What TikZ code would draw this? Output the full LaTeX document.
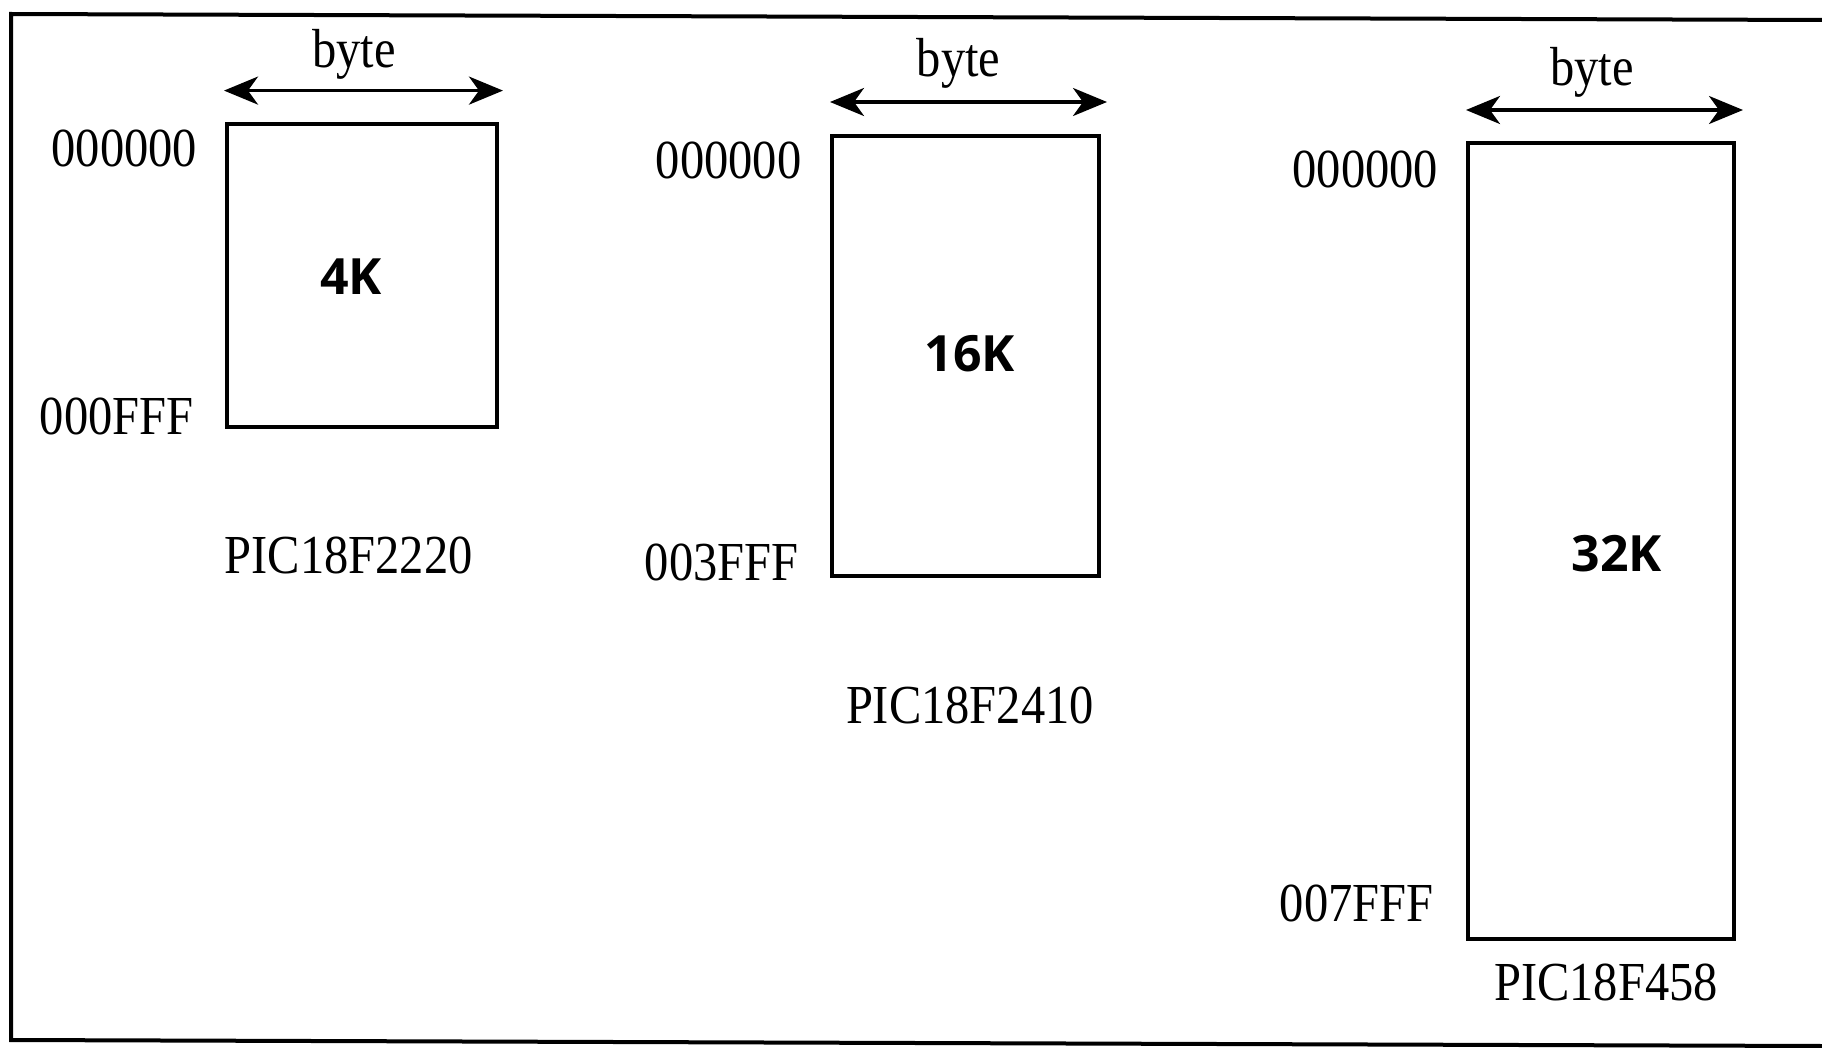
\documentclass[tikz,border=0pt]{standalone}
\usepackage{fontspec}
\setmainfont{Liberation Serif}
\newfontfamily\boldsans{Open Sans}
\usetikzlibrary{arrows.meta}
\newcommand{\tall}[1]{\scalebox{0.97}[1.1]{#1}}
\tikzset{
  membox/.style={draw, line width=2pt, anchor=north west, inner sep=0pt, outer sep=0pt},
  addr/.style={anchor=east, inner sep=0pt, font=\fontsize{25}{28}\selectfont},
  lbl/.style={inner sep=0pt, font=\fontsize{25}{28}\selectfont},
  size/.style={inner sep=0pt, font=\boldsans\bfseries\fontsize{25}{28}\selectfont},
  widtharrow/.style={line width=1.7pt, {Stealth[length=17pt,width=14pt,inset=5pt]}-{Stealth[length=17pt,width=14pt,inset=5pt]}},
  frameline/.style={line width=2pt}
}
\begin{document}
\begin{tikzpicture}[x=0.5pt,y=-0.5pt]
\useasboundingbox (0,0) rectangle (1822,1048);
% frame
\coordinate (ftr) at (1822,20);
\coordinate (ftl) at (11,14);
\coordinate (fbl) at (11,1040);
\coordinate (fbr) at (1822,1046);
\draw[frameline] (ftr) -- (ftl) -- (fbl) -- (fbr);

% ---- PIC18F2220
\node[membox, minimum width=135.3pt, minimum height=151.6pt] (box1) at (226.6,124.3) {};
\node[size] (k1) at (351,276.6) {4K};
\coordinate (a1l) at (224,90.6);
\coordinate (a1r) at (503,90.6);
\draw[widtharrow] (a1l) -- (a1r);
\node[lbl] (byte1) at (354,54) {\tall{byte}};
\node[addr] (s1) at (197.5,148.7) {\tall{000000}};
\node[addr] (e1) at (194,416) {\tall{000FFF}};
\node[lbl] (n1) at (348.6,555.4) {\tall{PIC18F2220}};

% ---- PIC18F2410
\node[membox, minimum width=133.5pt, minimum height=220pt] (box2) at (832,136) {};
\node[size] (k2) at (970,354) {16K};
\coordinate (a2l) at (830,102);
\coordinate (a2r) at (1107,102);
\draw[widtharrow] (a2l) -- (a2r);
\node[lbl] (byte2) at (958.7,63) {\tall{byte}};
\node[addr] (s2) at (801.8,160) {\tall{000000}};
\node[addr] (e2) at (799,562) {\tall{003FFF}};
\node[lbl] (n2) at (970,705) {\tall{PIC18F2410}};

% ---- PIC18F458
\node[membox, minimum width=133pt, minimum height=398pt] (box3) at (1467.6,143) {};
\node[size] (k3) at (1617,554) {32K};
\coordinate (a3l) at (1466,110);
\coordinate (a3r) at (1743,110);
\draw[widtharrow] (a3l) -- (a3r);
\node[lbl] (byte3) at (1592,72) {\tall{byte}};
\node[addr] (s3) at (1438.6,169.6) {\tall{000000}};
\node[addr] (e3) at (1434,903) {\tall{007FFF}};
\node[lbl] (n3) at (1606,982) {\tall{PIC18F458}};
\end{tikzpicture}
\end{document}
